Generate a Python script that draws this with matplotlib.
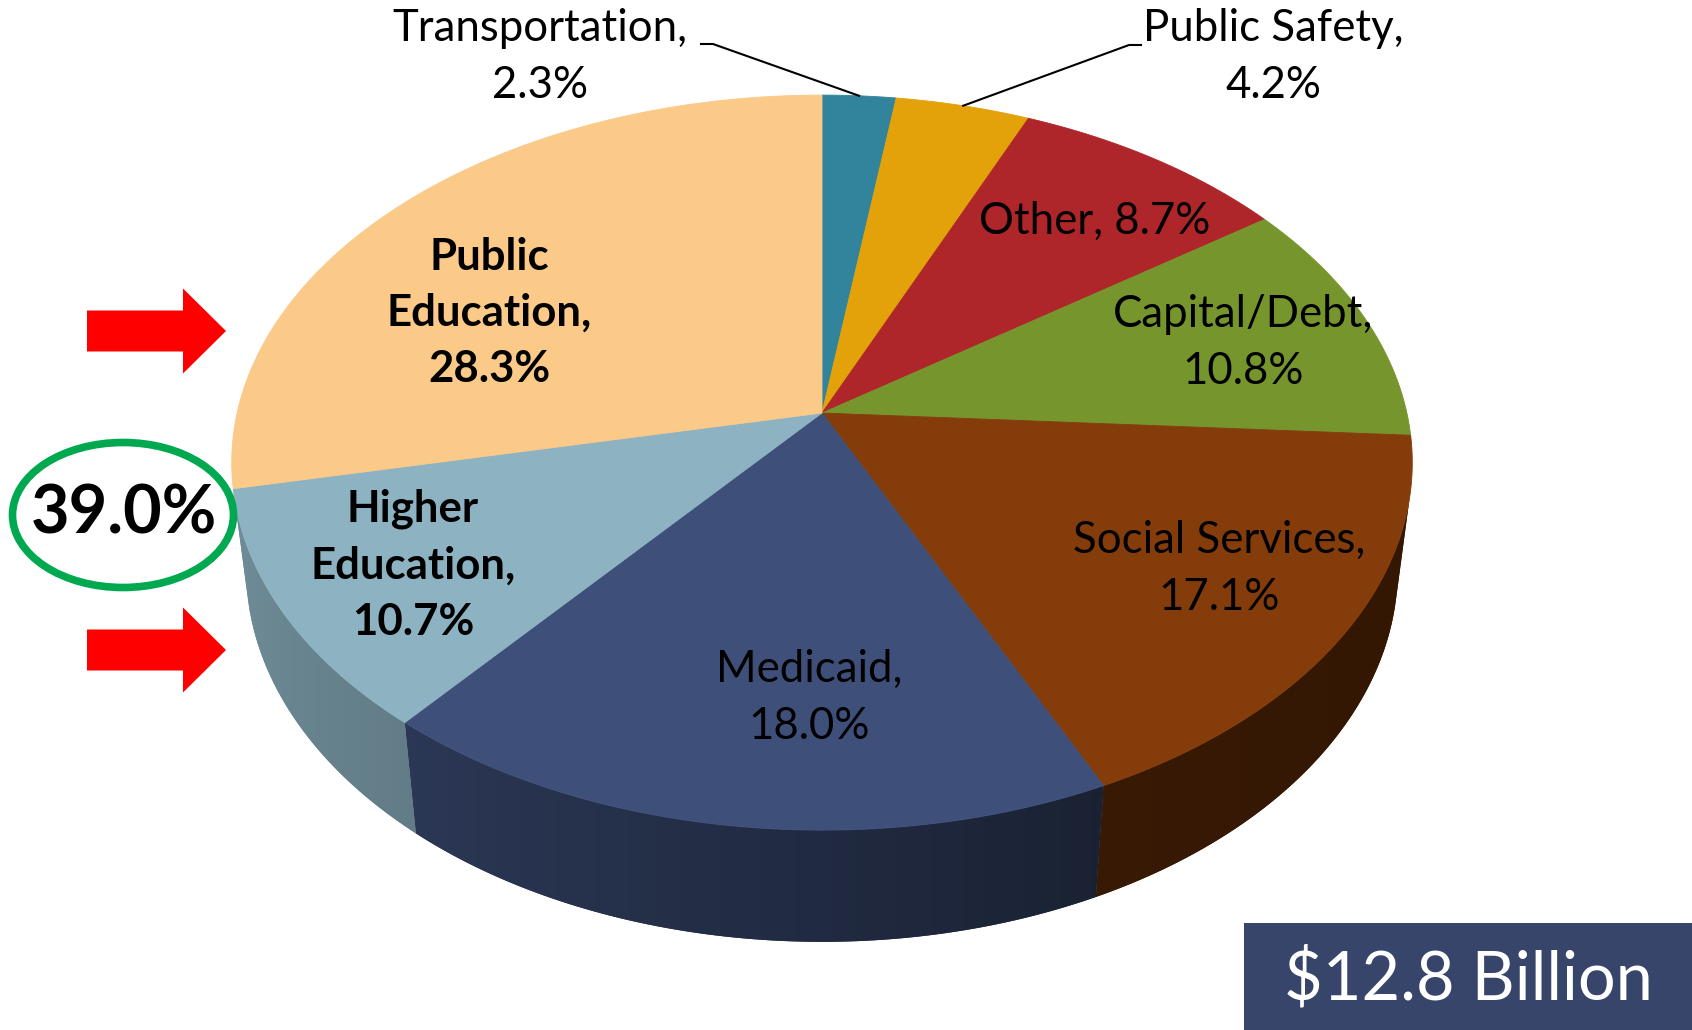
import numpy as np
import matplotlib.pyplot as plt
from matplotlib.colors import to_rgb
from matplotlib.patches import Polygon, Ellipse, FancyArrow, Rectangle

# budget shares, clockwise from 12 o'clock
categories = ["Transportation", "Public Safety", "Other", "Capital/Debt",
              "Social Services", "Medicaid", "Higher Education", "Public Education"]
shares = [2.3, 4.2, 8.7, 10.8, 17.1, 18.0, 10.7, 28.3]
colors = ["#31849B", "#E4A20A", "#AE252A", "#77952D",
          "#843C0A", "#3E507A", "#8DB3C2", "#FBC988"]
label_text = ["Transportation,\n2.3%", "Public Safety,\n4.2%", "Other, 8.7%",
              "Capital/Debt,\n10.8%", "Social Services,\n17.1%", "Medicaid,\n18.0%",
              "Higher\nEducation,\n10.7%", "Public\nEducation,\n28.3%"]
label_bold = [False, False, False, False, False, False, True, True]
combined_label = "39.0%"
total_label = "$12.8 Billion"

# layout (pixels of the output image)
label_pos = [(540, 57), (1273, 57), (1095, 221), (1243, 343),
             (1219, 569), (809, 698), (413, 565), (489, 313)]
CX, CY = 822, 413
FOC, DIST = 3455, 5.86
XSCALE = 0.992
SIN_E, COS_E = 0.612, 0.791
THICK = 0.235

FONT = ["Lato", "DejaVu Sans"]


def project(theta, z=0.0):
    x = np.sin(theta)
    y = np.cos(theta)
    depth = DIST + y * COS_E - z * SIN_E
    up = y * SIN_E + z * COS_E
    return CX + XSCALE * FOC * x / depth, CY - FOC * up / depth


def shade(theta):
    d = np.degrees(theta)
    return np.interp(d, [100, 155, 220, 260], [0.38, 0.42, 0.70, 0.80])


fig = plt.figure(figsize=(16.92, 10.30), dpi=100)
ax = fig.add_axes([0, 0, 1, 1])

frac = np.array(shares) / np.sum(shares)
bounds = np.concatenate([[0], np.cumsum(frac)]) * 2 * np.pi
vis_lo = np.arccos(-1 / (DIST * COS_E))
vis_hi = 2 * np.pi - vis_lo

# side walls: one polygon per slice, filled with a horizontal shading gradient
rim_t = np.linspace(vis_lo, vis_hi, 2000)
rim_x, _ = project(rim_t)
order = np.argsort(rim_x)
for i in range(len(shares)):
    a0, a1 = max(bounds[i], vis_lo), min(bounds[i + 1], vis_hi)
    if a1 <= a0:
        continue
    ts = np.linspace(a0, a1, 300)
    tx, ty = project(ts)
    bx, by = project(ts[::-1], -THICK)
    pts = np.column_stack([np.concatenate([tx, bx]), np.concatenate([ty, by])])
    base = np.array(to_rgb(colors[i]))
    poly = Polygon(pts, closed=True, fc=base * shade((a0 + a1) / 2), ec="none", zorder=1)
    ax.add_patch(poly)
    x0, x1 = pts[:, 0].min() - 2, pts[:, 0].max() + 2
    y0, y1 = pts[:, 1].min() - 2, pts[:, 1].max() + 2
    cols = np.linspace(x0, x1, 400)
    th = np.interp(cols, rim_x[order], rim_t[order])
    img = np.clip(base[None, :] * shade(th)[:, None], 0, 1)[None, :, :]
    im = ax.imshow(img, extent=(x0, x1, y1, y0), aspect="auto", zorder=1.5,
                   interpolation="bilinear")
    im.set_clip_path(poly)

# top faces
for i in range(len(shares)):
    ts = np.linspace(bounds[i], bounds[i + 1], 200)
    xs, ys = project(ts)
    pts = [(CX, CY)] + list(zip(xs, ys))
    ax.add_patch(Polygon(pts, closed=True, fc=colors[i], ec=colors[i], lw=0.6, zorder=2))

ax.set_xlim(0, 1692)
ax.set_ylim(1030, 0)
ax.axis("off")

# labels
for i in range(len(shares)):
    ax.text(label_pos[i][0], label_pos[i][1], label_text[i], ha="center", va="center",
            fontsize=31.5, family=FONT, fontweight="bold" if label_bold[i] else "normal",
            linespacing=1.5, color="black", zorder=5)

# leader lines for the two thin slices
tx, ty = project((bounds[0] + bounds[1]) / 2)
ax.plot([701, 713, tx], [44, 44, ty], color="black", lw=1.5, zorder=4)
sx, sy = project((bounds[1] + bounds[2]) / 2)
ax.plot([1141, 1129, sx], [45, 45, sy], color="black", lw=1.5, zorder=4)

# red arrows
for yc in (331, 650):
    ax.add_patch(FancyArrow(87, yc, 139, 0, width=41, head_width=85, head_length=43,
                            length_includes_head=True, fc="#FF0000", ec="none", zorder=6))

# green ellipse with combined share
ax.add_patch(Ellipse((123, 515), 221, 145, fill=False, ec="#00A850", lw=5.5, zorder=6))
ax.text(124, 514, combined_label, ha="center", va="center", fontsize=48,
        fontweight="bold", family=FONT, color="black", zorder=7)

# total box
ax.add_patch(Rectangle((1244, 923), 448, 107, fc="#37456B", ec="none", zorder=6))
ax.text(1468, 980, total_label, ha="center", va="center", fontsize=48,
        family=FONT, color="white", zorder=7)

fig.savefig("out.png", dpi=100)
